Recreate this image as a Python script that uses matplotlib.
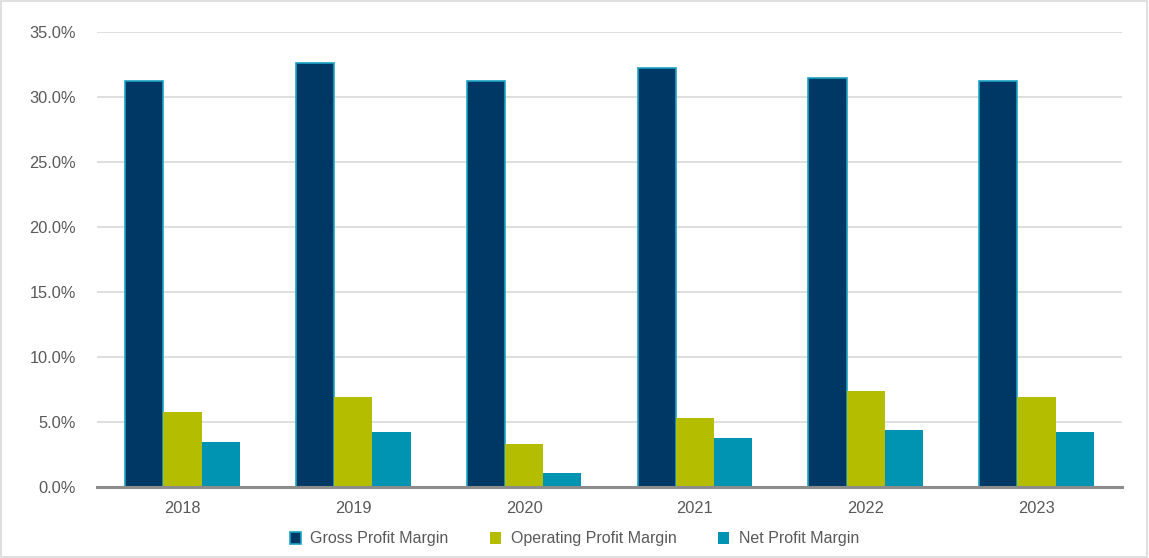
import matplotlib
matplotlib.use("Agg")
import matplotlib.pyplot as plt
import numpy as np
from matplotlib.ticker import PercentFormatter
from matplotlib.patches import Rectangle

years = ["2018", "2019", "2020", "2021", "2022", "2023"]
gross = [31.2, 32.6, 31.2, 32.2, 31.5, 31.2]
operating = [5.8, 6.9, 3.3, 5.3, 7.4, 6.9]
net = [3.5, 4.2, 1.1, 3.8, 4.4, 4.2]

c_gross = "#003865"
c_op = "#b5bd00"
c_net = "#0093b2"

plt.rcParams["font.family"] = ["Liberation Sans", "DejaVu Sans"]

fig = plt.figure(figsize=(11.49, 5.58), dpi=100)
ax = fig.add_axes([97 / 1149, 1 - 487 / 558, (1122 - 97) / 1149, (487 - 32) / 558])

x = np.arange(len(years))
w = 0.224
ax.bar(x - w, gross, w, color=c_gross, edgecolor="#1aa3c4", linewidth=1.2,
       label="Gross Profit Margin", zorder=3)
ax.bar(x, operating, w, color=c_op, label="Operating Profit Margin", zorder=3)
ax.bar(x + w, net, w, color=c_net, label="Net Profit Margin", zorder=3)

ax.set_xlim(-0.5, len(years) - 0.5)
ax.set_ylim(0, 35)
ax.set_yticks(np.arange(0, 36, 5))
ax.yaxis.set_major_formatter(PercentFormatter(decimals=1))
ax.set_xticks(x)
ax.set_xticklabels(years)
ax.grid(axis="y", color="#d9d9d9", linewidth=1.2, zorder=0)
for s in ["top", "right", "left"]:
    ax.spines[s].set_visible(False)
ax.spines["bottom"].set_color("#8c8c8c")
ax.spines["bottom"].set_linewidth(2.2)
ax.spines["bottom"].set_zorder(4)
ax.tick_params(axis="both", length=0, labelsize=11.8, colors="#595959")
ax.tick_params(axis="y", pad=15)
ax.tick_params(axis="x", pad=10)

leg = fig.legend(loc="center", bbox_to_anchor=(0.5, 1 - 539 / 558), ncol=3,
                 frameon=False, fontsize=11.5, handlelength=0.7, handleheight=0.7,
                 handletextpad=0.6, columnspacing=2.6)
for t in leg.get_texts():
    t.set_color("#595959")

fig.patches.append(Rectangle((0.001, 0.002), 0.997, 0.996, transform=fig.transFigure,
                             fill=False, edgecolor="#d9d9d9", linewidth=1.2))

fig.savefig("out.png", dpi=100)
plt.close(fig)
